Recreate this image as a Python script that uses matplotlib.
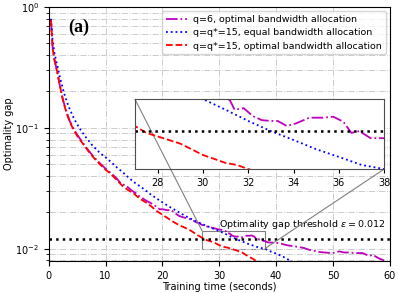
import numpy as np
import matplotlib
matplotlib.use("Agg")
import matplotlib.pyplot as plt
from mpl_toolkits.axes_grid1.inset_locator import mark_inset

# q=q*=15, optimal bandwidth allocation (red)
t_red = [0.4, 0.7, 1.0, 1.5, 2.0, 2.5, 3.0, 3.7, 4.4, 5.0, 6.2, 7.0, 8.0, 9.0, 10.0,
         10.75, 12, 13, 14, 15, 16, 17, 18, 19, 20, 21, 22, 23, 24, 25, 26, 27, 27.5,
         28, 28.5, 29, 29.5, 30, 30.5, 31, 31.5, 32, 33, 34, 35, 36, 37]
g_red = [0.78, 0.45, 0.37, 0.29, 0.22, 0.17, 0.14, 0.112, 0.096, 0.086, 0.072, 0.064,
         0.056, 0.050, 0.045, 0.0423, 0.037, 0.033, 0.0305, 0.0285, 0.026, 0.0243,
         0.0225, 0.0205, 0.0191, 0.0178, 0.0166, 0.0156, 0.0149, 0.0141, 0.0131, 0.0123,
         0.0119, 0.0117, 0.0115, 0.0113, 0.0110, 0.0107, 0.0105, 0.0103, 0.0102, 0.0100,
         0.0097, 0.0093, 0.0087, 0.0082, 0.0076]

# q=q*=15, equal bandwidth allocation (blue)
t_blue = [0.4, 0.7, 1.0, 1.5, 2.0, 2.7, 3.5, 4.5, 5.5, 6.5, 7.65, 9, 10, 11, 12, 13, 14,
          15, 16, 17, 18, 19, 20, 21, 22, 23, 24, 25, 26, 27, 28, 29, 30, 31, 32, 33,
          34, 35, 36, 37, 38, 39, 40, 41, 42, 43]
g_blue = [0.80, 0.52, 0.42, 0.33, 0.26, 0.194, 0.150, 0.118, 0.098, 0.084, 0.072, 0.062,
          0.057, 0.052, 0.047, 0.043, 0.039, 0.0355, 0.0330, 0.0305, 0.0280, 0.0260,
          0.0242, 0.0226, 0.0212, 0.0199, 0.0187, 0.0177, 0.0168, 0.0160, 0.0153, 0.0146,
          0.0140, 0.0133, 0.0126, 0.0120, 0.0115, 0.0110, 0.0106, 0.0102, 0.0100, 0.0095,
          0.0091, 0.0087, 0.0082, 0.0077]

# q=6, optimal bandwidth allocation (magenta)
t_mag = [0.4, 0.7, 1.0, 1.5, 2.0, 2.5, 3.0, 3.7, 4.4, 5.0, 6.2, 7.0, 8.0, 9.0, 10.0, 11.0,
         12.0, 12.5, 13.0, 13.5, 14.0, 14.8, 15.5, 16, 16.5, 17, 18, 19, 19.5, 20, 20.5,
         21, 21.5, 22, 23, 24, 24.8, 25.5, 26, 26.5, 27, 27.5, 28, 28.5, 29, 29.5, 30,
         30.5, 31, 31.2, 31.4, 31.8, 32.2, 32.6, 33.0, 33.3, 33.7, 34.1, 34.7, 35.3,
         35.75, 36.2, 36.55, 36.9, 37.4, 38.0, 38.5, 39.5, 40.6, 41.5, 42.3, 43, 44.1,
         45, 45.8, 46.7, 47.6, 48.5, 49.9, 51.1, 52, 52.9, 54, 55.2, 56.4, 57, 58.1, 59]
g_mag = [0.78, 0.46, 0.37, 0.29, 0.22, 0.172, 0.142, 0.114, 0.098, 0.088, 0.073, 0.065,
         0.057, 0.051, 0.046, 0.042, 0.038, 0.0355, 0.034, 0.0335, 0.032, 0.0298, 0.0285,
         0.0270, 0.0262, 0.0252, 0.0238, 0.0222, 0.0212, 0.0212, 0.0210, 0.0208, 0.0210,
         0.0200, 0.0186, 0.0180, 0.0176, 0.0170, 0.0165, 0.0162, 0.0157, 0.0155, 0.0152,
         0.0150, 0.0148, 0.0146, 0.0144, 0.0143, 0.0140, 0.0139, 0.0133, 0.0134, 0.0129,
         0.01265, 0.0126, 0.0126, 0.0123, 0.01245, 0.0128, 0.0128, 0.01286, 0.01255,
         0.0119, 0.0120, 0.0116, 0.0116, 0.0113, 0.0112, 0.0111, 0.0108, 0.0106, 0.0105,
         0.0103, 0.0101, 0.0098, 0.0096, 0.0094, 0.0093, 0.0092, 0.0095, 0.0093, 0.0093,
         0.0092, 0.0092, 0.0087, 0.0089, 0.0083, 0.0080]

threshold = 0.012

fig = plt.figure(figsize=(3.99, 2.93), dpi=100)
ax = fig.add_axes([0.122, 0.109, 0.855, 0.867])

def draw(a):
    a.plot(t_mag, g_mag, color='m', ls='-.', lw=1.3, label='q=6, optimal bandwidth allocation')
    a.plot(t_blue, g_blue, color='b', ls=':', lw=1.3, label='q=q*=15, equal bandwidth allocation')
    a.plot(t_red, g_red, color='r', ls='--', lw=1.3, label='q=q*=15, optimal bandwidth allocation')
    a.axhline(threshold, color='k', ls=':', lw=1.8)

draw(ax)
ax.set_yscale('log')
ax.set_xlim(0, 60)
ax.set_ylim(0.0079, 1)
ax.grid(True, which='both', ls='-.', color='0.8', lw=0.7)
ax.tick_params(labelsize=7)
ax.set_xlabel('Training time (seconds)', fontsize=7, labelpad=1)
ax.set_ylabel('Optimality gap', fontsize=7, labelpad=1)
ax.legend(loc='upper right', fontsize=6.8, handlelength=2.3, borderaxespad=0.45,
          labelspacing=0.45, handletextpad=0.6, borderpad=0.4)
ax.text(3.5, 0.62, '(a)', fontsize=13, fontweight='bold', family='Liberation Serif')
ax.text(30, 0.0152, r'Optimality gap threshold $\varepsilon=0.012$', fontsize=6.8)

axins = fig.add_axes([0.338, 0.423, 0.625, 0.239])
draw(axins)
axins.set_yscale('log')
axins.set_xlim(27, 38)
axins.set_ylim(0.01, 0.014)
axins.set_xticks([28, 30, 32, 34, 36, 38])
axins.set_yticks([])
axins.set_yticks([], minor=True)
axins.tick_params(labelsize=7, length=3)
for s in axins.spines.values():
    s.set_color('0.3')
mark_inset(ax, axins, loc1=2, loc2=4, fc='none', ec='0.5', lw=0.8)

fig.savefig('out.png', dpi=100)
